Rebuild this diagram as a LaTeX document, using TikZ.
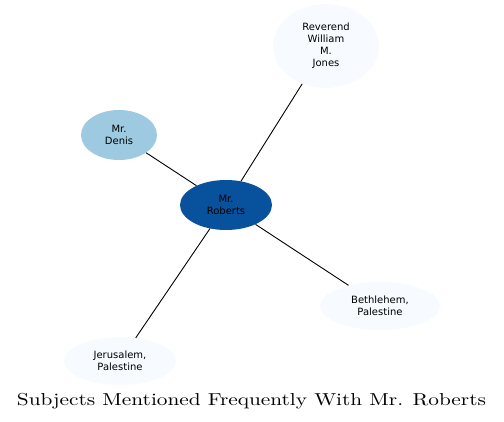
\documentclass[tikz,border=0pt]{standalone}
\usepackage{fontspec}
\newfontfamily\nodefont{DejaVu Sans}
\usetikzlibrary{shapes.geometric}
\definecolor{cdark}{HTML}{08519C}
\definecolor{cmid}{HTML}{9ECAE1}
\definecolor{clight}{HTML}{F7FBFF}
\begin{document}
\begin{tikzpicture}[x=1pt,y=-1pt,
  ent/.style={ellipse,inner sep=0pt,align=center,draw=none,
    font=\nodefont\fontsize{10}{12}\selectfont},
  link/.style={draw=black,line width=0.9pt}]
\useasboundingbox (0,0) rectangle (504,422);
\node[ent,fill=clight,minimum width=106pt,minimum height=84pt] (jones) at (326,46) {Reverend\\William\\M.\\Jones};
\node[ent,fill=cmid,minimum width=76pt,minimum height=50pt] (denis) at (119,135) {Mr.\\Denis};
\node[ent,fill=cdark,minimum width=92pt,minimum height=50pt] (roberts) at (226,205) {Mr.\\Roberts};
\node[ent,fill=clight,minimum width=120pt,minimum height=48pt] (beth) at (380,306) {Bethlehem,\\Palestine};
\node[ent,fill=clight,minimum width=112pt,minimum height=48pt] (jeru) at (120,361) {Jerusalem,\\Palestine};
\draw[link] (roberts) -- (jones);
\draw[link] (roberts) -- (denis);
\draw[link] (roberts) -- (beth);
\draw[link] (roberts) -- (jeru);
\node[inner sep=0pt,anchor=base] (title) at (251.5,405.5) {\resizebox{469pt}{12.2pt}{\fontsize{10}{12}\selectfont Subjects Mentioned Frequently With Mr. Roberts}};
\end{tikzpicture}
\end{document}
